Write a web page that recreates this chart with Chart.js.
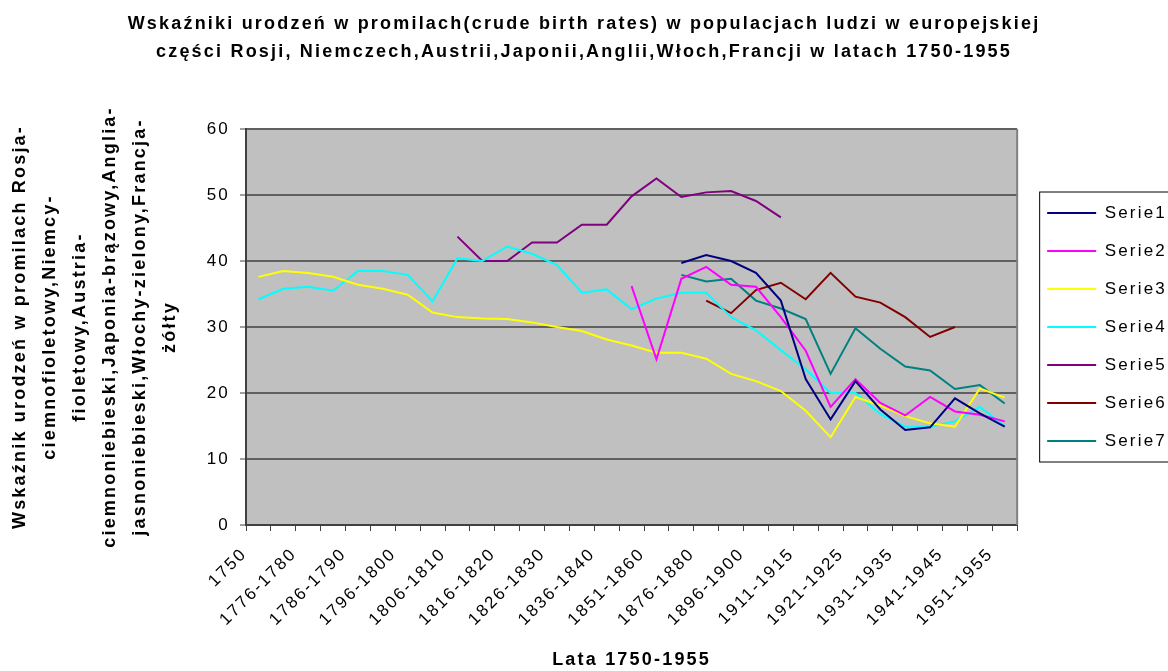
<!DOCTYPE html>
<html>
<head>
<meta charset="utf-8">
<script src="https://cdn.jsdelivr.net/npm/chart.js@4/dist/chart.umd.min.js"></script>
<style>
  html, body { margin: 0; background: #fff; }
  #wrap { width: 1168px; height: 671px; }
</style>
</head>
<body>
<div id="wrap"><canvas id="chart"></canvas></div>
<script>
// okresy (co drugi podpis widoczny na osi)
const periods = [
  '1750', '1771-1775', '1776-1780', '1781-1785', '1786-1790', '1791-1795',
  '1796-1800', '1801-1805', '1806-1810', '1811-1815', '1816-1820', '1821-1825',
  '1826-1830', '1831-1835', '1836-1840', '1841-1850', '1851-1860', '1861-1870',
  '1876-1880', '1886-1890', '1896-1900', '1906-1910', '1911-1915', '1916-1920',
  '1921-1925', '1926-1930', '1931-1935', '1936-1940', '1941-1945', '1946-1950',
  '1951-1955'
]

// wartosci, null = brak danych
const serie1 = [null, null, null, null, null, null, null, null, null, null, null, null,
  null, null, null, null, null, 39.7, 40.9, 40.0, 38.2, 34.0, 22.1, 16.0, 21.8, 17.5,
  14.4, 14.8, 19.2, 16.9, 14.9]
const serie2 = [null, null, null, null, null, null, null, null, null, null, null, null,
  null, null, null, 36.2, 25.1, 37.3, 39.1, 36.4, 36.1, 31.5, 26.4, 17.9, 22.1, 18.5,
  16.6, 19.4, 17.2, 16.7, 15.7]
const serie3 = [37.6, 38.5, 38.2, 37.6, 36.4, 35.8, 34.9, 32.2, 31.5, 31.3, 31.2, 30.7,
  30.0, 29.4, 28.1, 27.2, 26.1, 26.1, 25.2, 22.9, 21.8, 20.3, 17.3, 13.3, 19.4, 18.1,
  16.5, 15.4, 14.9, 20.7, 19.3]
const serie4 = [34.2, 35.8, 36.1, 35.5, 38.5, 38.5, 37.9, 33.9, 40.4, 40.0, 42.2, 41.1,
  39.4, 35.2, 35.7, 32.7, 34.3, 35.2, 35.2, 31.5, 29.5, 26.5, 23.6, 20.0, 20.0, 16.8,
  14.9, 14.9, 15.7, 17.9, 15.0]
const serie5 = [null, null, null, null, null, null, null, null, 43.7, 40.0, 40.0, 42.8,
  42.8, 45.5, 45.5, 49.8, 52.5, 49.7, 50.4, 50.6, 49.1, 46.6, null, null, null, null,
  null, null, null, null, null]
const serie6 = [null, null, null, null, null, null, null, null, null, null, null, null,
  null, null, null, null, null, null, 34.0, 32.1, 35.6, 36.7, 34.2, 38.2, 34.6, 33.7,
  31.5, 28.5, 30.0, null, null]
const serie7 = [null, null, null, null, null, null, null, null, null, null, null, null,
  null, null, null, null, null, 37.9, 36.9, 37.3, 34.0, 32.8, 31.2, 22.9, 29.8, 26.7,
  24.0, 23.4, 20.6, 21.2, 18.4]

const seriesNames = ['Serie1', 'Serie2', 'Serie3', 'Serie4', 'Serie5', 'Serie6', 'Serie7']
const seriesColors = ['#000080', '#FF00FF', '#FFFF00', '#00FFFF', '#800080', '#800000', '#008080']
const seriesValues = [serie1, serie2, serie3, serie4, serie5, serie6, serie7]

const titleLines = [
  'Wskaźniki urodzeń w promilach(crude birth rates) w populacjach ludzi w europejskiej',
  'części Rosji, Niemczech,Austrii,Japonii,Anglii,Włoch,Francji w latach 1750-1955'
]
const yTitleLines = [
  'Wskaźnik urodzeń w promilach Rosja-',
  'ciemnofioletowy,Niemcy-',
  'fioletowy,Austria-',
  'ciemnoniebieski,Japonia-brązowy,Anglia-',
  'jasnoniebieski,Włochy-zielony,Francja-',
  'żółty'
]
const xTitle = 'Lata 1750-1955'

Chart.defaults.font.family = '"Liberation Sans", Arial, sans-serif'
Chart.defaults.color = '#000'

const SPACING = '2.2px'

// tlo obszaru wykresu, ramka, odstepy liter jak w excelu
const excelLook = {
  id: 'excelLook',
  afterInit(chart) {
    chart.legend.afterFit = function () { this.width = 146 }
  },
  beforeUpdate(chart) { chart.ctx.letterSpacing = SPACING },
  afterLayout(chart) {
    chart.legend.left += 9
    chart.legend.right += 9
  },
  beforeDraw(chart) {
    const {ctx, chartArea: a} = chart
    ctx.letterSpacing = SPACING
    ctx.save()
    ctx.fillStyle = '#C0C0C0'
    ctx.fillRect(a.left, a.top, a.right - a.left, a.bottom - a.top)
    ctx.restore()
  },
  beforeDatasetsDraw(chart) {
    const {ctx, chartArea: a} = chart
    ctx.save()
    ctx.strokeStyle = '#808080'
    ctx.lineWidth = 2
    ctx.beginPath()
    ctx.moveTo(a.right, a.top)
    ctx.lineTo(a.right, a.bottom)
    ctx.stroke()
    ctx.restore()
  },
  afterDraw(chart) {
    const ctx = chart.ctx
    const hb = chart.legend.legendHitBoxes
    if (!hb.length) return
    const first = hb[0]
    const last = hb[hb.length - 1]
    ctx.save()
    ctx.strokeStyle = '#000'
    ctx.lineWidth = 1
    ctx.strokeRect(first.left - 7.5, first.top - 12.5, 300, last.top + last.height - first.top + 25)
    ctx.restore()
  }
}

new Chart(document.getElementById('chart'), {
  type: 'line',
  data: {
    labels: periods,
    datasets: seriesValues.map((vals, i) => ({
      label: seriesNames[i],
      data: vals,
      borderColor: seriesColors[i],
      backgroundColor: seriesColors[i],
      borderWidth: 2,
      pointRadius: 0,
      tension: 0,
      spanGaps: false
    }))
  },
  options: {
    responsive: true,
    maintainAspectRatio: false,
    animation: false,
    layout: { padding: 0 },
    plugins: {
      title: {
        display: true,
        text: titleLines,
        font: { size: 18, weight: 'bold', lineHeight: 1.556 },
        padding: { top: 10, bottom: 63 }
      },
      legend: {
        position: 'right',
        fullSize: false,
        labels: {
          usePointStyle: true,
          pointStyle: 'line',
          pointStyleWidth: 49,
          boxHeight: 17,
          padding: 21,
          font: { size: 17 }
        }
      },
      tooltip: { enabled: false }
    },
    scales: {
      x: {
        offset: true,
        grid: { offset: true, drawOnChartArea: false, tickLength: 6, color: '#404040', lineWidth: 1 },
        border: { color: '#404040', width: 2 },
        ticks: {
          autoSkip: false,
          maxRotation: 45,
          minRotation: 45,
          padding: 13,
          labelOffset: -14,
          font: { size: 17 },
          callback: (v, i) => (i % 2 ? '' : periods[i])
        },
        title: {
          display: true,
          text: xTitle,
          font: { size: 18, weight: 'bold' },
          padding: { top: 4, bottom: 0 }
        },
        afterFit(s) { s.height = 146 }
      },
      y: {
        min: 0,
        max: 60,
        ticks: { stepSize: 10, padding: 10, font: { size: 17 } },
        grid: { color: '#606060', lineWidth: 2, tickLength: 6, tickColor: '#404040', tickWidth: 1 },
        border: { color: '#404040', width: 2 },
        title: {
          display: true,
          text: yTitleLines,
          font: { size: 18, weight: 'bold', lineHeight: 1.667 },
          padding: { top: 5 }
        },
        afterFit(s) { s.width = 246 }
      }
    }
  },
  plugins: [excelLook]
})
</script>
</body>
</html>
